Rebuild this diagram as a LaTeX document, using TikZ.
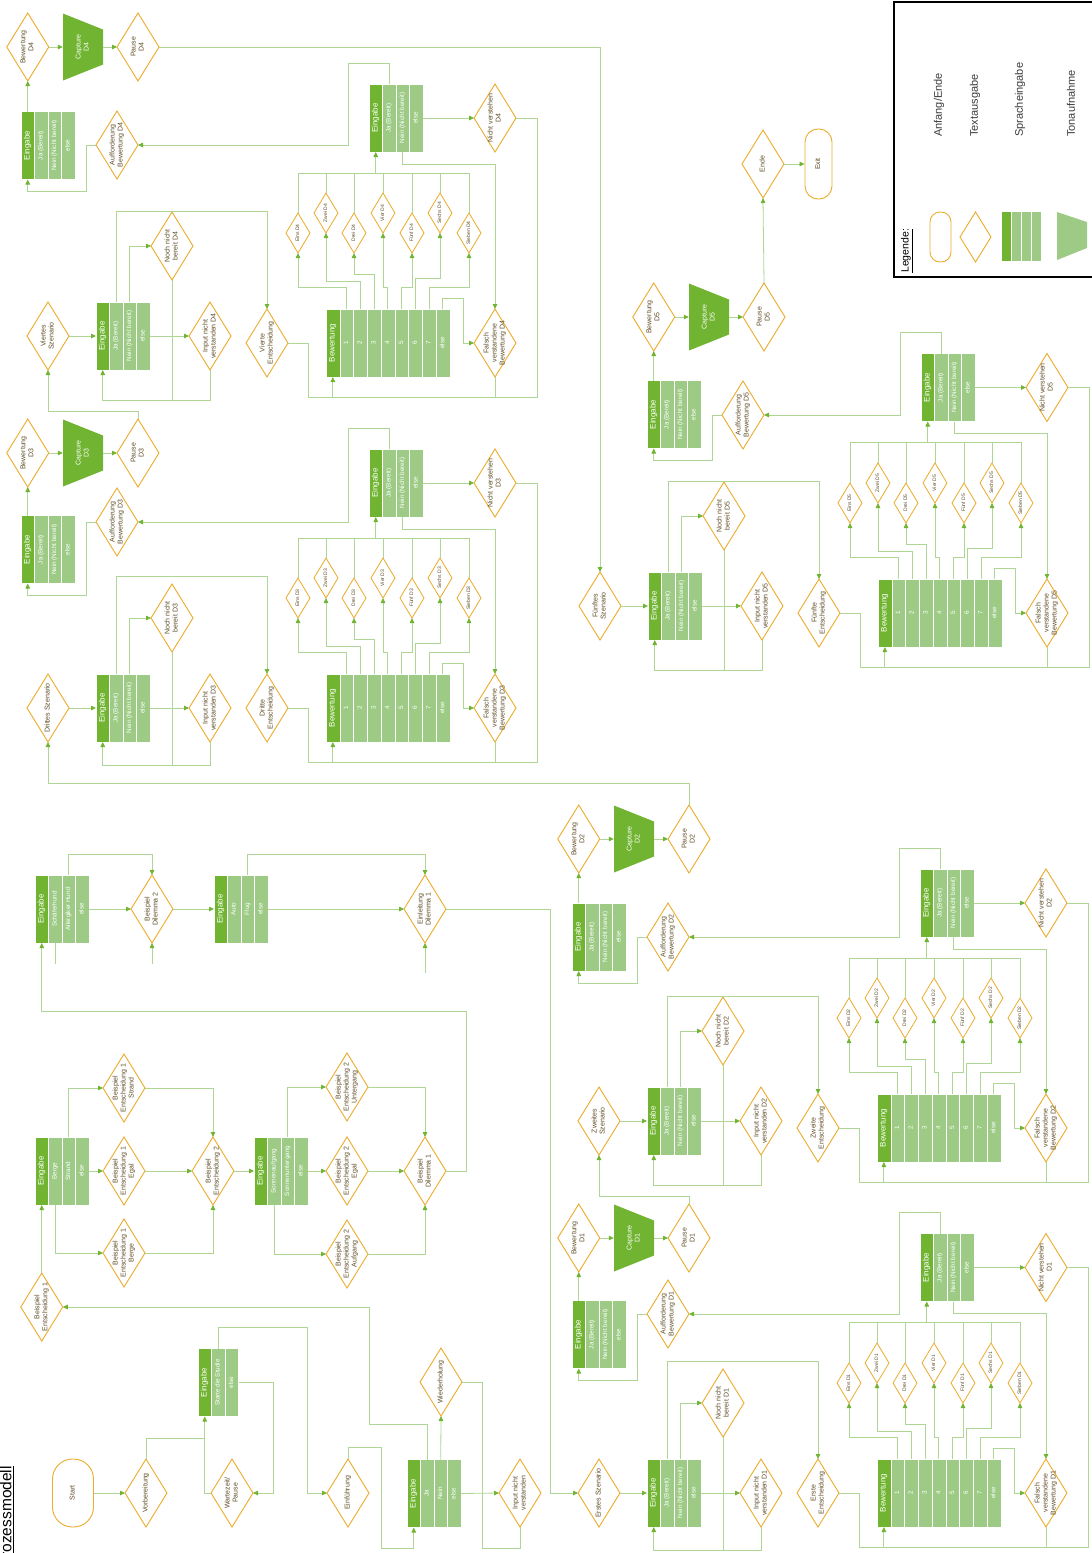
\documentclass[tikz,border=0pt]{standalone}
\usepackage{fontspec}
\setmainfont{Liberation Sans}
\usepackage{graphicx}
\usetikzlibrary{arrows.meta,shapes.geometric,calc}

\definecolor{gD}{RGB}{112,180,50}
\definecolor{gL}{RGB}{157,203,134}
\definecolor{lnC}{RGB}{176,214,150}
\definecolor{orC}{RGB}{236,172,44}
\definecolor{txC}{RGB}{95,75,35}
\definecolor{lgT}{RGB}{60,60,60}

\newcommand{\rt}[1]{\smash{\makebox[0pt]{\raisebox{-.5\height}{\rotatebox{90}{\begin{tabular}{@{}c@{}}#1\end{tabular}}}}}}

\tikzset{
  dia/.style={diamond, draw=orC, line width=0.9pt, fill=white, inner sep=0pt, outer sep=0pt,
    minimum width=42pt, minimum height=68pt, text=txC, font=\fontsize{7}{8}\selectfont},
  sdia/.style={dia, minimum width=24pt, minimum height=40pt, line width=0.8pt, font=\fontsize{5}{5.5}\selectfont},
  ecol/.style={rectangle, draw=white, line width=0.5pt, inner sep=0pt, outer sep=0pt, minimum height=68pt, text=white},
  con/.style={draw=lnC, line width=0.8pt},
  arr/.style={con, -{Triangle[length=5pt,width=4.5pt,color=gD]}},
  term/.style={rectangle, draw=orC, line width=0.9pt, fill=white, inner sep=0pt, text=txC, font=\fontsize{7}{8}\selectfont},
  capt/.style={rectangle, fill=white, inner sep=0pt, minimum width=40pt, minimum height=67pt, text=white,
    font=\fontsize{7}{8}\selectfont,
    path picture={\fill[gD] (path picture bounding box.north west) -- ([yshift=-16pt]path picture bounding box.north east)
      -- ([yshift=16pt]path picture bounding box.south east) -- (path picture bounding box.south west) -- cycle;}},
}

% name, xleft, ycenter, column width, labels
\newcommand{\ebox}[5]{%
  \foreach \lab [count=\i from 0] in {#5} {
    \pgfmathsetmacro{\cx}{#2+#4/2+#4*\i}
    \ifnum\i=0\relax
      \node[ecol, minimum width=#4 pt, fill=gD, font=\fontsize{8}{9}\selectfont] (#1-\i) at (\cx,#3) {\rt{\lab}};
    \else
      \node[ecol, minimum width=#4 pt, fill=gL, font=\fontsize{6.3}{7}\selectfont] (#1-\i) at (\cx,#3) {\rt{\lab}};
    \fi
  }%
}

% id, X, Y (Szenario), E (Entscheidung), R (rating box), A (x of A box), AY, AU (Aufforderung y), B (Bewertung y)
\newcommand{\cluster}[9]{%
  \node[dia] (sz#1) at (#2,#3) {\rt{\szname}};
  \ebox{s#1}{#2+48}{#3}{13.5}{Eingabe,Ja (Bereit),Nein (Nicht bereit),else}
  \node[dia] (nnb#1) at ({#2+124},{#3-90}) {\rt{Noch nicht\\bereit #1}};
  \node[dia] (inv#1) at ({#2+162},{#3}) {\rt{Input nicht\\verstanden #1}};
  \node[dia] (ent#1) at ({#2+219},{#4}) {\rt{\entname}};
  \ebox{bw#1}{#2+278}{#4}{13.75}{Bewertung,1,2,3,4,5,6,7,else}
  \foreach \k/\dx/\dy/\nm in {1/250/110/Eins,2/278/130/Zwei,3/306/110/Drei,4/335/130/Vier,5/364/110/Fünf,6/392/130/Sechs,7/421/110/Sieben}
    {\node[sdia] (sd#1-\k) at ({#2+\dx},{#4-\dy}) {\rt{\nm\ #1}};}
  \ebox{r#1}{#2+321}{#5}{13.5}{Eingabe,Ja (Bereit),Nein (Nicht bereit),else}
  \node[dia] (nv#1) at ({#2+447},{#5}) {\rt{Nicht verstehen\\#1}};
  \node[dia] (fv#1) at ({#2+447},{#4}) {\rt{Falsch\\verstandene\\Bewertung #1}};
  \ebox{a#1}{#6}{#7}{13.5}{Eingabe,Ja (Bereit),Nein (Nicht bereit),else}
  \node[dia] (auf#1) at ({#6+96},{#8}) {\rt{Aufforderung\\Bewertung #1}};
  \node[dia] (bd#1) at ({#6+6.75},{#9}) {\rt{Bewertung\\#1}};
  \node[capt] (cap#1) at ({#6+62},{#9}) {\rt{Capture\\#1}};
  \node[dia] (pa#1) at ({#6+117},{#9}) {\rt{Pause\\#1}};
  \coordinate (bus#1) at ({#2+327.75},{#5+55});
  \draw[arr] (sz#1.east) -- (s#1-0.west);
  \draw[arr] (s#1-1.north) |- ({#2+219},{#4-132}) -- (ent#1.north);
  \draw[arr] (s#1-2.north) |- (nnb#1.west);
  \draw[arr] (s#1-3.east) -- (inv#1.west);
  \draw[con] (nnb#1.south) -- ({#2+124},{#4+57});
  \draw[arr] (inv#1.south) -- ({#2+162},{#4+57}) -| (s#1-0.south);
  \draw[arr] (ent#1.east) -| ({#2+260},{#4+54}) -| (bw#1-0.south);
  \draw[con] (nv#1.east) -| ({#2+489},{#4+54}) -- ({#2+285},{#4+54});
  \draw[con] (fv#1.south) -- ({#2+447},{#4+54});
  \foreach \k/\lev in {1/22,2/28,3/35,4/22,5/22,6/31,7/22}
    {\draw[arr] (bw#1-\k.north) -- ++(0,-\lev) -| (sd#1-\k.south);}
  \draw[arr] (bw#1-8.north) -- ++(0,-11) -| ({#2+415},{#4}) -- (fv#1.west);
  \foreach \k in {1,...,7} {\draw[con] (sd#1-\k.north) |- (bus#1);}
  \draw[arr] (bus#1) -- (r#1-0.south);
  \draw[arr] (r#1-1.north) -- ++(0,-21) -| ({#2+300},{#8}) -- (auf#1.east);
  \draw[arr] (r#1-2.south) -- ++(0,12) -| (fv#1.north);
  \draw[arr] (r#1-3.east) -- (nv#1.west);
  \draw[arr] (auf#1.west) -| ({#6+65},{#7+46}) -| (a#1-0.south);
  \draw[arr] (a#1-0.north) -- (bd#1.south);
  \draw[arr] (bd#1.east) -- (cap#1.west);
  \draw[arr] (cap#1.east) -- (pa#1.west);
}

\begin{document}
\begin{tikzpicture}[x=1pt,y=-1pt]
\useasboundingbox (0,0) rectangle (1092,1553);
\fill[white] (0,0) rectangle (1092,1553);

% ---------- title ----------
\node[anchor=north west, inner sep=0pt] (title) at (0,1466)
  {\rotatebox{90}{\fontsize{15.5}{18}\selectfont\underline{Prozessmodell}}};

% ---------- start chain ----------
\node[term, minimum width=41pt, minimum height=68pt, rounded corners=20pt] (start) at (73,1493) {\rt{Start}};
\node[dia] (vorb) at (146,1493) {\rt{Vorbereitung}};
\ebox{st}{198}{1382.5}{13.5}{Eingabe,Starte die Studie,else}
\node[dia] (wz) at (232,1493) {\rt{Wartezeit/\\Pause}};
\node[dia] (einf) at (348,1493) {\rt{Einführung}};
\ebox{w}{407}{1493.5}{13.5}{Eingabe,Ja,Nein,else}
\node[dia] (wied) at (441,1382) {\rt{Wiederholung}};
\node[dia] (inv0) at (520,1493) {\rt{Input nicht\\verstanden}};

\draw[arr] (start.east) -- (vorb.west);
\draw[arr] (vorb.north) |- (204.75,1438) -- (st-0.south);
\draw[con] (wz.west) -| (204.75,1438);
\draw[arr] (st-2.east) -| (273,1493) -- (wz.east);
\draw[arr] (st-1.north) |- (307,1327) |- (einf.west);
\draw[arr] (einf.north) |- (381,1447) |- (413.75,1548) -- (w-0.south);
\draw[arr] (w-2.north) -- (wied.south);
\draw[arr] (w-3.east) -- (inv0.west);
\draw[con] (wied.east) -| (482,1548);
\draw[con] (inv0.south) |- (482,1548);

% ---------- Beispiel section ----------
\node[dia] (be1) at (41.75,1307) {\rt{Beispiel\\Entscheidung 1}};
\ebox{b1}{35}{1171}{13.5}{Eingabe,Berge,Strand,else}
\node[dia] (strand) at (124,1088) {\rt{Beispiel\\Entscheidung 1\\Strand}};
\node[dia] (egal1) at (124,1171) {\rt{Beispiel\\Entscheidung 1\\Egal}};
\node[dia] (berge) at (124,1253) {\rt{Beispiel\\Entscheidung 1\\Berge}};
\node[dia] (bent2) at (213,1171) {\rt{Beispiel\\Entscheidung 2}};
\ebox{b2}{254}{1171}{13.5}{Eingabe,Sonnenaufgang,Sonnenuntergang,else}
\node[dia] (unt) at (347,1087) {\rt{Beispiel\\Entscheidung 2\\Untergang}};
\node[dia] (egal2) at (347,1171) {\rt{Beispiel\\Entscheidung 2\\Egal}};
\node[dia] (aufg) at (347,1254) {\rt{Beispiel\\Entscheidung 2\\Aufgang}};
\node[dia] (bdil1) at (425,1171) {\rt{Beispiel\\Dilemma 1}};

\draw[arr] (w-1.north) |- (369,1424) |- (be1.east);
\draw[arr] (be1.north) -- (b1-0.south);
\draw[arr] (b1-2.north) |- (strand.west);
\draw[arr] (b1-3.east) -- (egal1.west);
\draw[arr] (b1-1.south) |- (berge.west);
\draw[arr] (strand.east) -| (bent2.north);
\draw[arr] (egal1.east) -- (bent2.west);
\draw[arr] (berge.east) -| (bent2.south);
\draw[arr] (bent2.east) -- (b2-0.west);
\draw[arr] (b2-2.north) |- (unt.west);
\draw[arr] (b2-3.east) -- (egal2.west);
\draw[arr] (b2-1.south) |- (aufg.west);
\draw[arr] (unt.east) -| (bdil1.north);
\draw[arr] (egal2.east) -- (bdil1.west);
\draw[arr] (aufg.east) -| (bdil1.south);

% ---------- Dilemma section ----------
\ebox{dil}{35}{909}{13.5}{Eingabe,Schäferhund,Allergiker Hund,else}
\node[dia] (bdil2) at (152,909) {\rt{Beispiel\\Dilemma  2}};
\ebox{dilb}{214}{909}{13.5}{Eingabe,Auto,Flug,else}
\node[dia] (eind1) at (425,909) {\rt{Einleitung\\Dilemma 1}};
\coordinate (stubA) at (152,964);
\coordinate (stubB) at (425,973);

\draw[arr] (bdil1.east) -| (466,1011) -| (dil-0.south);
\draw[arr] (dil-2.north) |- (152,854) -- (bdil2.north);
\draw[arr] (dil-3.east) -- (bdil2.west);
\draw[con] (dil-1.south) -- ++(0,21);
\draw[arr] (stubA) -- (bdil2.south);
\draw[arr] (bdil2.east) -- (dilb-0.west);
\draw[arr] (dilb-2.north) |- (425,854) -- (eind1.north);
\draw[arr] (dilb-3.east) -- (eind1.west);
\draw[arr] (stubB) -- (eind1.south);

% ---------- scenario clusters ----------
\def\szname{Erstes Szenario}\def\entname{Erste\\Entscheidung}
\cluster{D1}{599}{1493}{1493}{1267.5}{572}{1334.5}{1314}{1238}
\def\szname{Zweites\\Szenario}\def\entname{Zweite\\Entscheidung}
\cluster{D2}{599}{1121}{1128}{903}{572}{937}{937}{839}
\def\szname{Drittes Szenario}\def\entname{Dritte\\Entscheidung}
\cluster{D3}{48}{708}{708}{483}{21}{549.5}{522}{453}
\def\szname{Viertes\\Szenario}\def\entname{Vierte\\Entscheidung}
\cluster{D4}{48}{336}{343}{118}{21}{145.5}{145}{47}
\def\szname{Fünftes\\Szenario}\def\entname{Fünfte\\Entscheidung}
\cluster{D5}{600}{606}{613}{387.5}{647}{414.5}{415}{317}

\draw[arr] (eind1.east) -| (550,1493) -- (szD1.west);
\draw[arr] (paD1.north) |- (599,1196) -- (szD2.south);
\draw[arr] (paD2.north) |- (48,783) -- (szD3.south);
\draw[arr] (paD3.north) |- (48,411) -- (szD4.south);
\draw[arr] (paD4.east) -| (szD5.north);

% ---------- end ----------
\node[dia] (ende) at (763,164) {\rt{Ende}};
\node[term, minimum width=27pt, minimum height=70pt, rounded corners=13pt] (exit) at (818.5,164) {\rt{Exit}};
\draw[arr] (paD5.north) -- (ende.south);
\draw[arr] (ende.east) -- (exit.west);

% ---------- legend ----------
\draw[line width=2.5pt] (894,2) rectangle (1110,277);
\node[anchor=south, inner sep=0pt] (lgHead) at (907,273)
  {\rotatebox{90}{\fontsize{10.5}{12}\selectfont\underline{Legende:}}};
\node[term, minimum width=21pt, minimum height=50pt, rounded corners=10pt] (lg1) at (940.5,237) {};
\node[dia, minimum width=31pt, minimum height=50pt] (lg2) at (975.5,237) {};
\foreach \i/\c in {0/gD,1/gL,2/gL,3/gL}
  {\node[ecol, minimum width=10pt, minimum height=50pt, fill=\c] (lg3-\i) at ({1006+10*\i},236) {};}
\fill[gL] (1057,212) -- (1087,222) -- (1087,248) -- (1057,260) -- cycle;
\foreach \nm/\x/\t in {lt1/939/Anfang\slash Ende, lt2/975/Textausgabe, lt3/1020/Spracheingabe, lt4/1071/Tonaufnahme}
  {\node[anchor=south, inner sep=0pt, text=lgT] (\nm) at (\x,137) {\rotatebox{90}{\fontsize{11}{13}\selectfont \t}};}
\end{tikzpicture}
\end{document}
